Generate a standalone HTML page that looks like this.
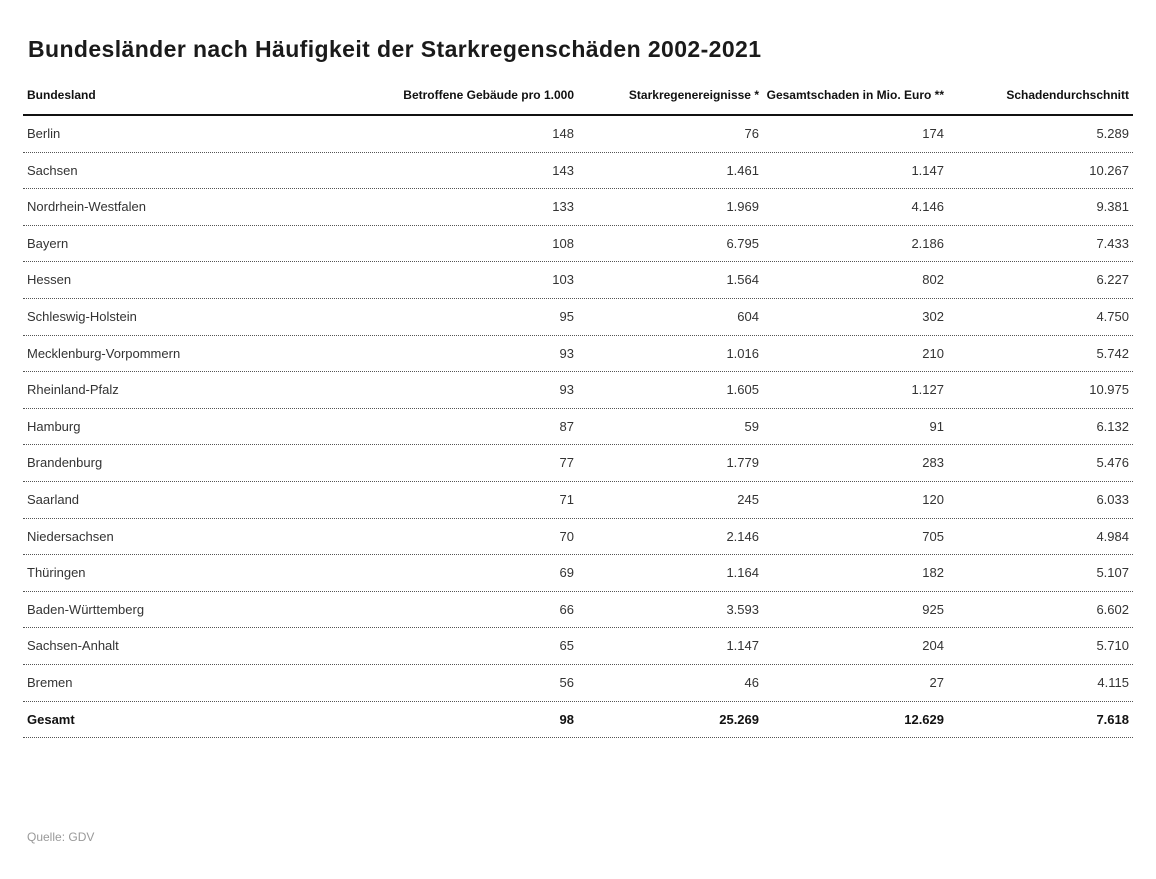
<!DOCTYPE html>
<html>
<head>
<meta charset="utf-8">
<style>
  html, body { margin:0; padding:0; background:#fff; }
  body { width:1156px; height:879px; position:relative; overflow:hidden; font-family:"Liberation Sans", Arial, sans-serif; }
  .title { position:absolute; left:28px; top:35px; font-size:23px; line-height:28px; font-weight:bold; color:#1a1a1a; letter-spacing:0.4px; white-space:nowrap; }
  .hdr { position:absolute; top:88px; font-size:12px; line-height:14px; font-weight:bold; color:#111; white-space:nowrap; }
  .thick { position:absolute; left:23px; top:114px; width:1110px; height:2px; background:#111; }
  .row { position:absolute; left:23px; width:1110px; height:35.6px; border-bottom:1px dotted #555; font-size:13px; line-height:35.6px; color:#333; }
  .row span { position:absolute; top:0; white-space:nowrap; }
  .row .c0 { left:4px; }
  .row .c1 { right:559px; }
  .row .c2 { right:374px; }
  .row .c3 { right:189px; }
  .row .c4 { right:4px; }
  .row.tot { font-weight:bold; color:#111; }
  .src { position:absolute; left:27px; top:830px; font-size:12px; line-height:14px; color:#999; }
</style>
</head>
<body>
<div class="title">Bundesländer nach Häufigkeit der Starkregenschäden 2002-2021</div>

<div class="hdr" style="left:27px;">Bundesland</div>
<div class="hdr" style="right:582px;">Betroffene Gebäude pro 1.000</div>
<div class="hdr" style="right:397px;">Starkregenereignisse *</div>
<div class="hdr" style="right:212px;">Gesamtschaden in Mio. Euro **</div>
<div class="hdr" style="right:27px;">Schadendurchschnitt</div>

<div class="thick"></div>

<div class="row" style="top:116px;"><span class="c0">Berlin</span><span class="c1">148</span><span class="c2">76</span><span class="c3">174</span><span class="c4">5.289</span></div>
<div class="row" style="top:152.6px;"><span class="c0">Sachsen</span><span class="c1">143</span><span class="c2">1.461</span><span class="c3">1.147</span><span class="c4">10.267</span></div>
<div class="row" style="top:189.2px;"><span class="c0">Nordrhein-Westfalen</span><span class="c1">133</span><span class="c2">1.969</span><span class="c3">4.146</span><span class="c4">9.381</span></div>
<div class="row" style="top:225.8px;"><span class="c0">Bayern</span><span class="c1">108</span><span class="c2">6.795</span><span class="c3">2.186</span><span class="c4">7.433</span></div>
<div class="row" style="top:262.4px;"><span class="c0">Hessen</span><span class="c1">103</span><span class="c2">1.564</span><span class="c3">802</span><span class="c4">6.227</span></div>
<div class="row" style="top:299px;"><span class="c0">Schleswig-Holstein</span><span class="c1">95</span><span class="c2">604</span><span class="c3">302</span><span class="c4">4.750</span></div>
<div class="row" style="top:335.6px;"><span class="c0">Mecklenburg-Vorpommern</span><span class="c1">93</span><span class="c2">1.016</span><span class="c3">210</span><span class="c4">5.742</span></div>
<div class="row" style="top:372.2px;"><span class="c0">Rheinland-Pfalz</span><span class="c1">93</span><span class="c2">1.605</span><span class="c3">1.127</span><span class="c4">10.975</span></div>
<div class="row" style="top:408.8px;"><span class="c0">Hamburg</span><span class="c1">87</span><span class="c2">59</span><span class="c3">91</span><span class="c4">6.132</span></div>
<div class="row" style="top:445.4px;"><span class="c0">Brandenburg</span><span class="c1">77</span><span class="c2">1.779</span><span class="c3">283</span><span class="c4">5.476</span></div>
<div class="row" style="top:482px;"><span class="c0">Saarland</span><span class="c1">71</span><span class="c2">245</span><span class="c3">120</span><span class="c4">6.033</span></div>
<div class="row" style="top:518.6px;"><span class="c0">Niedersachsen</span><span class="c1">70</span><span class="c2">2.146</span><span class="c3">705</span><span class="c4">4.984</span></div>
<div class="row" style="top:555.2px;"><span class="c0">Thüringen</span><span class="c1">69</span><span class="c2">1.164</span><span class="c3">182</span><span class="c4">5.107</span></div>
<div class="row" style="top:591.8px;"><span class="c0">Baden-Württemberg</span><span class="c1">66</span><span class="c2">3.593</span><span class="c3">925</span><span class="c4">6.602</span></div>
<div class="row" style="top:628.4px;"><span class="c0">Sachsen-Anhalt</span><span class="c1">65</span><span class="c2">1.147</span><span class="c3">204</span><span class="c4">5.710</span></div>
<div class="row" style="top:665px;"><span class="c0">Bremen</span><span class="c1">56</span><span class="c2">46</span><span class="c3">27</span><span class="c4">4.115</span></div>
<div class="row tot" style="top:701.6px;"><span class="c0">Gesamt</span><span class="c1">98</span><span class="c2">25.269</span><span class="c3">12.629</span><span class="c4">7.618</span></div>

<div class="src">Quelle: GDV</div>
</body>
</html>
